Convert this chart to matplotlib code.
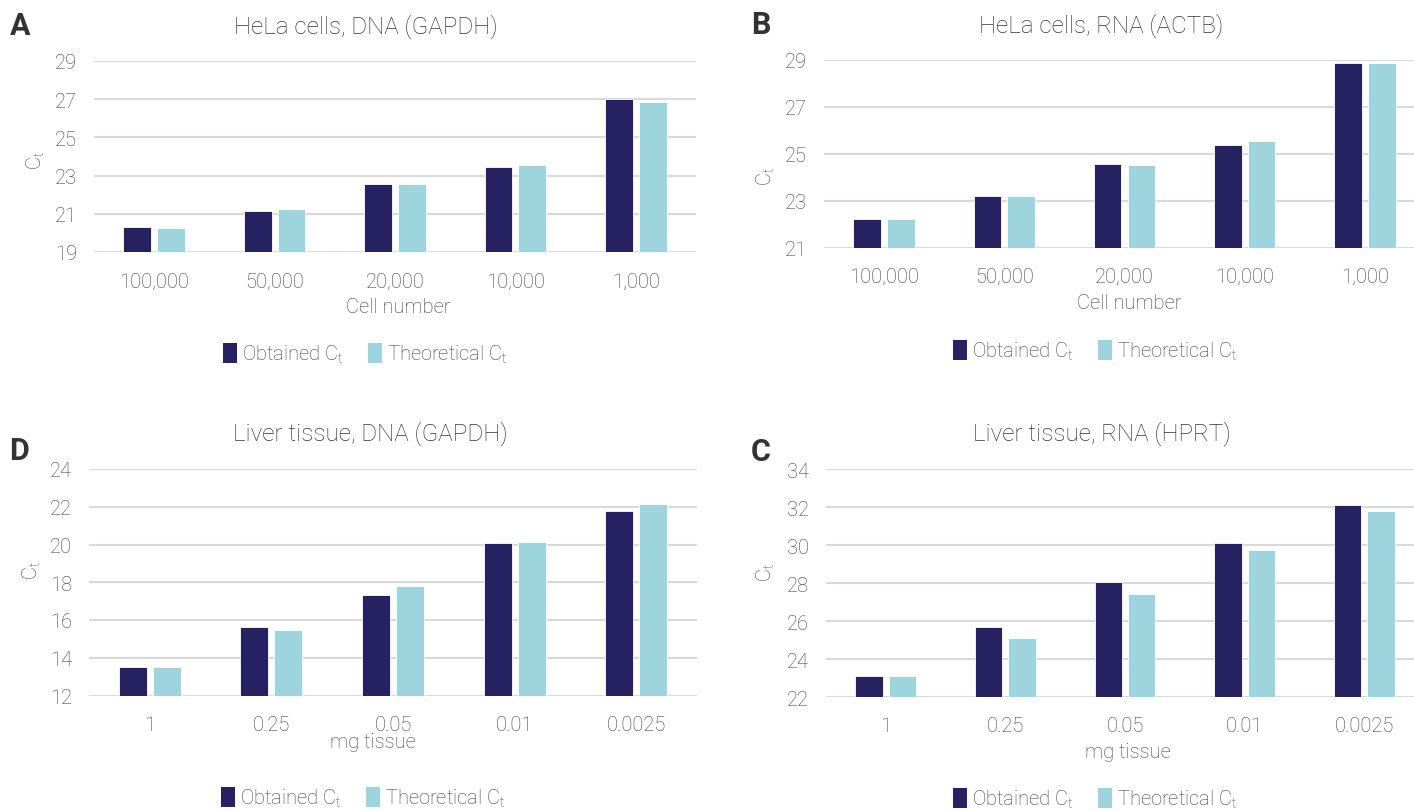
import matplotlib
matplotlib.use('Agg')
import matplotlib.pyplot as plt
import numpy as np
from matplotlib.patches import Patch

plt.rcParams['font.family'] = ['Roboto', 'DejaVu Sans']
plt.rcParams['font.weight'] = 'light'
plt.rcParams['mathtext.default'] = 'regular'

W, H = 1414, 812

cells = ['100,000', '50,000', '20,000', '10,000', '1,000']
tissue = ['1', '0.25', '0.05', '0.01', '0.0025']

a_obtained = [20.30, 21.16, 22.55, 23.43, 27.03]
a_theoretical = [20.27, 21.23, 22.55, 23.57, 26.87]
b_obtained = [22.21, 23.19, 24.58, 25.37, 28.88]
b_theoretical = [22.21, 23.19, 24.52, 25.53, 28.88]
d_obtained = [13.49, 15.63, 17.33, 20.07, 21.75]
d_theoretical = [13.49, 15.47, 17.80, 20.14, 22.14]
c_obtained = [23.09, 25.69, 28.05, 30.10, 32.12]
c_theoretical = [23.09, 25.11, 27.43, 29.75, 31.77]

a_ticks = [19, 21, 23, 25, 27, 29]
b_ticks = [21, 23, 25, 27, 29]
d_ticks = [12, 14, 16, 18, 20, 22, 24]
c_ticks = [22, 24, 26, 28, 30, 32, 34]

DARK = '#262262'
LIGHT = '#9dd4dd'
GRID = '#d9d9d9'
TXT = '#404040'
TITLE = '#333333'

fig = plt.figure(figsize=(W / 100, H / 100), dpi=100)


def fx(x):
    return x / W


def fy(y):
    return 1 - y / H


panels = [
    dict(letter='A', title='HeLa cells, DNA (GAPDH)', cats=cells, obt=a_obtained, theo=a_theoretical,
         ticks=a_ticks, xlabel='Cell number', rect=(94, 62, 696, 253),
         letter_pos=(10, 26), title_pos=(366, 27), xlabel_pos=(398, 308), ylabel_pos=(36, 160), legend_pos=(365, 355)),
    dict(letter='B', title='HeLa cells, RNA (ACTB)', cats=cells, obt=b_obtained, theo=b_theoretical,
         ticks=b_ticks, xlabel='Cell number', rect=(824, 61, 1425, 248.5),
         letter_pos=(751, 25), title_pos=(1101, 26), xlabel_pos=(1129, 304), ylabel_pos=(766, 176), legend_pos=(1095, 352)),
    dict(letter='D', title='Liver tissue, DNA (GAPDH)', cats=tissue, obt=d_obtained, theo=d_theoretical,
         ticks=d_ticks, xlabel='mg tissue', rect=(89, 470, 697, 696.5),
         letter_pos=(9, 451), title_pos=(370, 434), xlabel_pos=(373, 743), ylabel_pos=(32, 570), legend_pos=(363, 799)),
    dict(letter='C', title='Liver tissue, RNA (HPRT)', cats=tissue, obt=c_obtained, theo=c_theoretical,
         ticks=c_ticks, xlabel='mg tissue', rect=(826, 470, 1424, 698),
         letter_pos=(751, 452), title_pos=(1102, 434), xlabel_pos=(1128, 753), ylabel_pos=(766, 572), legend_pos=(1095, 800)),
]

w = 0.23
off = 0.14

for p in panels:
    l, t, r, b = p['rect']
    ax = fig.add_axes([fx(l), fy(b), (r - l) / W, (b - t) / H])
    x = np.arange(len(p['cats']))
    ax.bar(x - off, p['obt'], width=w, color=DARK, edgecolor='white', linewidth=0.6, zorder=3)
    ax.bar(x + off, p['theo'], width=w, color=LIGHT, edgecolor='white', linewidth=0.6, zorder=3)
    ax.set_xlim(-0.5, len(x) - 0.5)
    ax.set_ylim(p['ticks'][0], p['ticks'][-1])
    ax.set_yticks(p['ticks'])
    ax.set_xticks(x)
    ax.set_xticklabels(p['cats'])
    ax.yaxis.grid(True, color=GRID, linewidth=1.5, zorder=0)
    ax.set_axisbelow(True)
    for s in ax.spines.values():
        s.set_visible(False)
    ax.tick_params(axis='y', length=0, pad=12, labelsize=14.5, labelcolor=TXT)
    ax.tick_params(axis='x', length=0, pad=14, labelsize=14.5, labelcolor=TXT)
    ax.patch.set_alpha(0)

    fig.text(fx(p['letter_pos'][0]), fy(p['letter_pos'][1]), p['letter'], fontsize=22,
             fontweight='bold', color='#333333', ha='left', va='center')
    fig.text(fx(p['title_pos'][0]), fy(p['title_pos'][1]), p['title'], fontsize=17.5,
             color=TITLE, ha='center', va='center')
    fig.text(fx(p['xlabel_pos'][0]), fy(p['xlabel_pos'][1]), p['xlabel'], fontsize=14.5,
             color=TXT, ha='center', va='center')
    fig.text(fx(p['ylabel_pos'][0]), fy(p['ylabel_pos'][1]), 'C$_t$', fontsize=14.5,
             color=TXT, ha='center', va='center', rotation=90)
    handles = [Patch(facecolor=DARK), Patch(facecolor=LIGHT)]
    fig.legend(handles, ['Obtained C$_t$', 'Theoretical C$_t$'], loc='center',
               bbox_to_anchor=(fx(p['legend_pos'][0]), fy(p['legend_pos'][1])),
               ncol=2, frameon=False, fontsize=14.5, labelcolor=TXT,
               handlelength=0.7, handleheight=1.1, handletextpad=0.25, columnspacing=1.2)

fig.savefig('out.png', dpi=100)
